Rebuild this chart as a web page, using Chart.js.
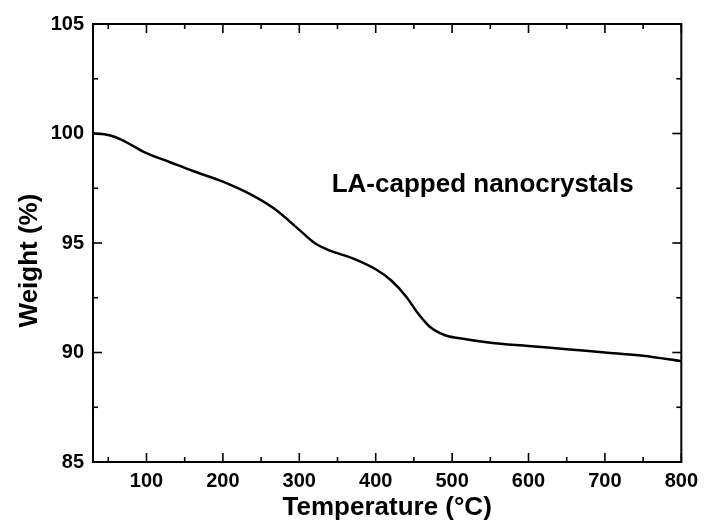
<!DOCTYPE html>
<html>
<head>
<meta charset="utf-8">
<script src="https://cdn.jsdelivr.net/npm/chart.js@4.4.1/dist/chart.umd.min.js"></script>
<style>
  html, body { margin: 0; padding: 0; background: #fff; }
  #wrap { width: 705px; height: 526px; }
</style>
</head>
<body>
<div id="wrap"><canvas id="c" width="705" height="526"></canvas></div>
<script>
// TGA curve of LA-capped nanocrystals
const temperature = [30, 45, 60, 80, 100, 130, 160, 200, 240, 270, 300, 320, 340, 370, 400, 420, 440, 455, 470, 490, 510, 550, 600, 650, 700, 750, 800];
const weight      = [100.0, 99.97, 99.83, 99.48, 99.1, 98.7, 98.3, 97.8, 97.15, 96.5, 95.6, 95.0, 94.65, 94.3, 93.8, 93.3, 92.55, 91.8, 91.2, 90.8, 90.65, 90.45, 90.3, 90.15, 90.0, 89.85, 89.6];

const xMajorTicks = [100, 200, 300, 400, 500, 600, 700, 800];
const xMinorTicks = [50, 150, 250, 350, 450, 550, 650, 750];
const yMajorTicks = [85, 90, 95, 100, 105];
const yMinorTicks = [87.5, 92.5, 97.5, 102.5];

const FONT = "'Liberation Sans', Arial, sans-serif";

// Frame around the plot with inward ticks on all four sides
const frameTicks = {
  id: 'frameTicks',
  afterDraw(chart) {
    const { ctx, chartArea: { left, right, top, bottom }, scales: { x, y } } = chart;
    ctx.save();
    ctx.strokeStyle = '#000';
    ctx.lineWidth = 2;
    ctx.strokeRect(left, top, right - left, bottom - top);
    ctx.lineWidth = 1.6;
    const seg = (x1, y1, x2, y2) => { ctx.beginPath(); ctx.moveTo(x1, y1); ctx.lineTo(x2, y2); ctx.stroke(); };
    const major = 9, minor = 5;
    xMajorTicks.forEach(v => { const p = x.getPixelForValue(v); seg(p, bottom, p, bottom - major); seg(p, top, p, top + major); });
    xMinorTicks.forEach(v => { const p = x.getPixelForValue(v); seg(p, bottom, p, bottom - minor); seg(p, top, p, top + minor); });
    yMajorTicks.forEach(v => { const p = y.getPixelForValue(v); seg(left, p, left + major, p); seg(right, p, right - major, p); });
    yMinorTicks.forEach(v => { const p = y.getPixelForValue(v); seg(left, p, left + minor, p); seg(right, p, right - minor, p); });
    ctx.restore();
  }
};

// Sample annotation and the vertical axis title
const labels = {
  id: 'labels',
  afterDraw(chart) {
    const { ctx, scales: { x, y } } = chart;
    ctx.save();
    ctx.fillStyle = '#000';
    ctx.font = `bold 26px ${FONT}`;
    ctx.textAlign = 'center';
    ctx.textBaseline = 'middle';
    ctx.fillText('LA-capped nanocrystals', x.getPixelForValue(540), y.getPixelForValue(97.65));
    ctx.translate(30, y.getPixelForValue(94.2));
    ctx.rotate(-Math.PI / 2);
    ctx.fillText('Weight (%)', 0, 0);
    ctx.restore();
  }
};

new Chart(document.getElementById('c'), {
  type: 'line',
  data: {
    datasets: [{
      data: temperature.map((t, i) => ({ x: t, y: weight[i] })),
      borderColor: '#000',
      borderWidth: 2.5,
      pointRadius: 0,
      fill: false,
      cubicInterpolationMode: 'monotone'
    }]
  },
  options: {
    responsive: false,
    animation: false,
    events: [],
    layout: { padding: { top: 24, right: 20, left: 0, bottom: 0 } },
    plugins: { legend: { display: false }, tooltip: { enabled: false } },
    scales: {
      x: {
        type: 'linear',
        min: 30,
        max: 800,
        afterBuildTicks: s => { s.ticks = xMajorTicks.map(v => ({ value: v })); },
        afterFit: s => { s.height = 64; },
        grid: { display: false, drawTicks: false },
        border: { display: false },
        ticks: { color: '#000', padding: 7, maxRotation: 0, font: { family: FONT, size: 20, weight: 'bold' } },
        title: { display: true, text: 'Temperature (\u00B0C)', color: '#000', padding: { top: 0, bottom: 3 }, font: { family: FONT, size: 26, weight: 'bold' } }
      },
      y: {
        type: 'linear',
        min: 85,
        max: 105,
        afterBuildTicks: s => { s.ticks = yMajorTicks.map(v => ({ value: v })); },
        afterFit: s => { s.width = 93; },
        grid: { display: false, drawTicks: false },
        border: { display: false },
        ticks: { color: '#000', padding: 9, font: { family: FONT, size: 20, weight: 'bold' } }
      }
    }
  },
  plugins: [frameTicks, labels]
});
</script>
</body>
</html>
